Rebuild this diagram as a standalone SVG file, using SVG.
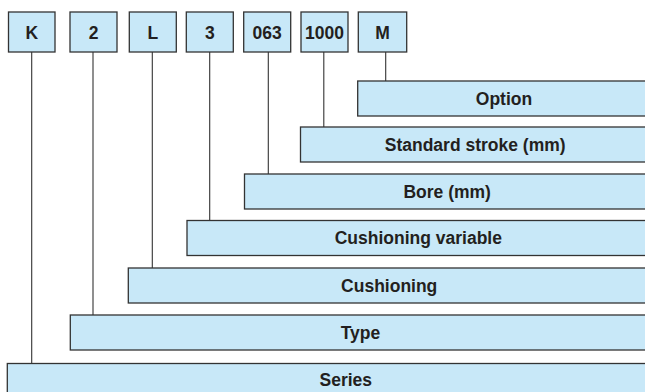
<svg xmlns="http://www.w3.org/2000/svg" width="645" height="392" viewBox="0 0 645 392">
<style>
.b{fill:#c8e8f8;stroke:#333333;stroke-width:1.3}
.t{font-family:"Liberation Sans",Arial,Helvetica,sans-serif;font-weight:bold;font-size:17.5px;fill:#231f20;text-anchor:middle}
.c{stroke:#333333;stroke-width:1.1;fill:none}
</style>
<rect width="645" height="392" fill="#ffffff"/>
<g id="connectors">
<line class="c" x1="31.7" y1="52" x2="31.7" y2="363.5"/>
<line class="c" x1="93" y1="52" x2="93" y2="315"/>
<line class="c" x1="152.3" y1="52" x2="152.3" y2="268"/>
<line class="c" x1="209.7" y1="52" x2="209.7" y2="220.5"/>
<line class="c" x1="268.3" y1="52" x2="268.3" y2="174"/>
<line class="c" x1="323.8" y1="52" x2="323.8" y2="127"/>
<line class="c" x1="385.7" y1="52" x2="385.7" y2="81"/>
</g>
<g id="code-K"><rect class="b" x="8.5" y="12" width="46.5" height="40"/><text class="t" x="31.7" y="38.5">K</text></g>
<g id="code-2"><rect class="b" x="70" y="12" width="47" height="40"/><text class="t" x="93.5" y="38.5">2</text></g>
<g id="code-L"><rect class="b" x="129.3" y="12" width="47" height="40"/><text class="t" x="152.8" y="38.5">L</text></g>
<g id="code-3"><rect class="b" x="186.3" y="12" width="47" height="40"/><text class="t" x="209.8" y="38.5">3</text></g>
<g id="code-063"><rect class="b" x="243.7" y="12" width="47" height="40"/><text class="t" x="267.2" y="38.5">063</text></g>
<g id="code-1000"><rect class="b" x="301" y="12" width="47" height="40"/><text class="t" x="324.5" y="38.5">1000</text></g>
<g id="code-M"><rect class="b" x="358.3" y="12" width="48.4" height="40"/><text class="t" x="382.5" y="38.5">M</text></g>
<g id="option"><rect class="b" x="357.7" y="81" width="310" height="35"/><text class="t" x="504" y="104.7">Option</text></g>
<g id="stroke"><rect class="b" x="300.5" y="127" width="370" height="35"/><text class="t" x="475.2" y="150.7">Standard stroke (mm)</text></g>
<g id="bore"><rect class="b" x="244.5" y="174" width="420" height="35"/><text class="t" x="447.2" y="197.7">Bore (mm)</text></g>
<g id="cushioning-variable"><rect class="b" x="187" y="220.5" width="480" height="35"/><text class="t" x="418.3" y="244.2">Cushioning variable</text></g>
<g id="cushioning"><rect class="b" x="128.3" y="268" width="540" height="35"/><text class="t" x="389.2" y="291.7">Cushioning</text></g>
<g id="type"><rect class="b" x="70.3" y="315" width="600" height="35"/><text class="t" x="360.5" y="338.7">Type</text></g>
<g id="series"><rect class="b" x="7.3" y="363.5" width="660" height="40"/><text class="t" x="345.8" y="385.7">Series</text></g>
</svg>
